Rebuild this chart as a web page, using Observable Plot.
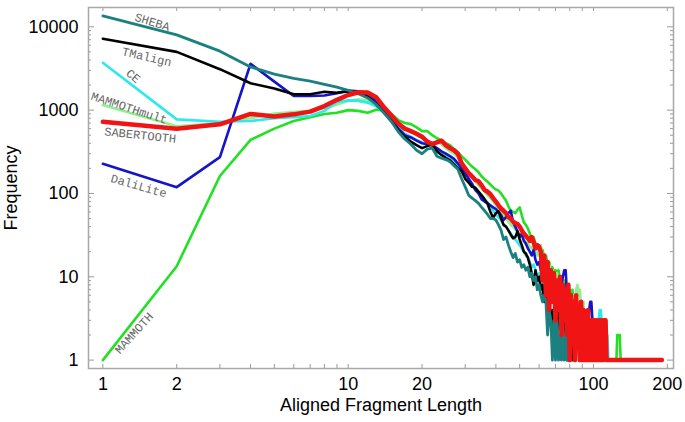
<!DOCTYPE html>
<html><head><meta charset="utf-8">
<script src="https://cdn.jsdelivr.net/npm/d3@7"></script>
<script src="https://cdn.jsdelivr.net/npm/@observablehq/plot@0.6"></script>
<style>body{margin:0;background:#fff;} #chart svg{display:block;}</style>
</head><body><div id="chart"></div>
<script>
// Frequency by aligned fragment length; index 0 = length 1
const mammoth = [1,13.4,162,440,600,740,820,900,930,1000, 980,930,1010,990,900,760,700,680,620,560, 560,500,460,430,400,380,340,310,280,255, 230,210,195,180,160,148,138,128,118,112, 108,100,90,82,70,62,60,58,64,68, 55,45,42,38,33,28,30,25,22,24, 20,21,17,18,14,15,12,13,11,12, 11,12,9,10,8,9,7,8,6,7, 5,7,5,6,4,5,3,5,4,3, 4,2,3,2,3,2,3,1,2,1, 2,2,1,2,1,2,2,1,1,1, 1,1,1,1,1,1,1,1,1,1, 1,1,1,1,2,2,2,2,1,1];
const mammothMult = [1150,640,700,800,910,950,980,1060,1170,1290, 1350,1300,1200,1000,820,680,600,560,500,460, 420,400,420,390,350,320,300,270,230,200, 180,160,140,125,115,105,95,88,80,72, 66,60,55,50,46,42,40,37,34,32, 30,28,26,25,23,22,24,20,18,22, 24,18,15,16,13,14,11,12,10,9, 11,8,9,7,8,6,7,5,6,4, 5,3,6,4,7,8,6,7,4,3, 5,2,3,1,2,1];
const ce = [3700,775,726,740,800,820,850,980,1250,1310, 1290,1230,1110,950,780,620,520,480,440,410, 380,360,340,320,290,270,250,220,190,165, 140,125,112,100,92,85,78,70,62,56, 52,48,42,40,36,33,30,28,26,24, 22,20,18,17,15,13,14,12,10,11, 9,8,9,7,8,6,7,5,6,4, 5,3,5,4,3,5,2,4,3,2, 4,2,3,1,3,2,4,2,3,1, 3,2,1,3,2,1,3,2,1,2, 1,2,1,2,3,4,4,3,2,1, 2,1,1,2,1];
const daliLite = [227,119,273,3600,2200,1480,1480,1500,1600,1720, 1680,1480,1290,1010,775,600,500,470,430,400, 390,380,350,320,300,280,260,230,200,175, 150,130,110,100,85,80,76,72,68,65, 60,55,48,52,58,62,45,40,35,30, 33,27,25,22,20,18,21,16,14,15, 12,10,13,9,11,7,9,6,8,5, 6,4,6,8,10,12,12,6,3,5, 2,4,3,1,3,2,4,2,3,1, 2,4,3,1,2,4,5,5,3,1, 2,2,1,1];
const tmAlign = [7200,5000,3100,2100,1820,1550,1550,1660,1620,1680, 1620,1440,1190,930,740,570,480,420,380,350, 370,390,320,290,268,250,225,200,185,150, 135,120,117,105,95,85,75,60,51,58, 61,50,42,40,36,32,29,30,35,28, 24,20,19,17,14,11,8,12,9,10, 7,8,5,6,4,5,3,4,2,3, 2,4,3,4,3,4,2,1,2,1, 3,1,2,1];
const sheba = [13500,8000,5100,3300,2700,2400,2230,2040,1890,1730, 1570,1400,1170,920,730,550,450,390,330,300, 340,350,280,265,255,240,215,195,150,120, 95,88,82,76,68,62,56,50,50,48, 42,36,28,30,24,20,17,19,15,16, 13,14,12,13,10,11,9,10,7,8, 6,5,6,5,2,4,3,1,3,1, 3,1,2,1,3,1,2,1,2,1, 1];
const sabertooth = [726,598,675,900,840,890,960,1120,1330,1520, 1640,1630,1430,1080,860,690,600,560,520,480, 420,390,410,430,380,350,330,300,230,200, 175,160,145,140,125,110,105,98,88,80, 72,66,62,58,52,50,46,44,43,40, 36,33,31,29,27,30,26,22,24,23, 20,9,18,6,15,4,12,5,11,3, 9,4,10,2,8,3,7,2,8,1, 6,2,5,1,6,2,4,1,5,1, 4,1,3,1,4,1,3,1,3,1, 3,1,3,1,3,1,3,1,3,1, 3,3,1,1,1,1,1,1,1,1, 1,1,1,1,1,1,1,1,1,1, 1,1,1,1,1,1,1,1,1,1, 1,1,1,1,1,1,1,1,1,1, 1,1,1,1,1,1,1,1,1,1, 1,1,1,1,1,1,1,1,1,1, 1,1,1,1,1,1,1,1,1,1, 1,1,1,1,1,1,1,1,1,1];

const seriesNames = ["MAMMOTH","MAMMOTHmult","CE","DaliLite","TMalign","SHEBA","SABERTOOTH"];
const seriesValues = [mammoth, mammothMult, ce, daliLite, tmAlign, sheba, sabertooth];
const seriesColors = ["#22e022","#8ef08e","#2ee8f0","#1414c8","#000000","#1b8080","#f01414"];
const seriesWidths = [2.6,2.6,2.6,2.6,2.6,2.8,4.5];

const xTickLabels = [1,2,5,10,20,50,100,200];
const yTickLabels = [1,10,100,1000,10000];
const xTickMarks = [1,2,3,4,5,6,7,8,9,10,20,30,40,50,60,70,80,90,100,200];
const yMinorMarks = [2,3,4,5,6,7,8,9,20,30,40,50,60,70,80,90,200,300,400,500,600,700,800,900,2000,3000,4000,5000,6000,7000,8000,9000];

// in-plot series labels: name, anchor length, anchor frequency, angle
const labelNames = ["SHEBA","TMalign","CE","MAMMOTHmult","SABERTOOTH","DaliLite","MAMMOTH"];
const labelX = [1.59,1.51,1.33,1.28,1.42,1.40,1.34];
const labelY = [11400,4340,2560,1060,502,123,2.11];
const labelAngle = [17,13,40,18,6,16,-48];

const W = 685, H = 422, mL = 88, mR = 12, mT = 7, mB = 54;
const fW = W - mL - mR, fH = H - mT - mB;

const lineMarks = seriesNames.map((name, k) =>
  Plot.line(seriesValues[k].map((v, i) => ({len: i + 1, freq: v})), {
    x: "len", y: "freq", stroke: seriesColors[k], strokeWidth: seriesWidths[k],
    strokeLinejoin: "round", strokeLinecap: "round"
  })
);

const labels = labelNames.map((t, i) => ({t, x: labelX[i], y: labelY[i], a: labelAngle[i]}));
const tickColor = "#9a9a9a";

const chart = Plot.plot({
  width: W, height: H,
  marginLeft: mL, marginRight: mR, marginTop: mT, marginBottom: mB,
  style: {fontFamily: "'Liberation Sans', Arial, Helvetica, sans-serif", fontSize: "18px", background: "#fff"},
  x: {type: "log", domain: [0.8737, 211.9]},
  y: {type: "log", domain: [0.793, 17050]},
  marks: [
    // inward tick marks on all four sides
    Plot.tickX(xTickMarks, {x: d => d, stroke: tickColor, insetTop: fH - 4}),
    Plot.tickX(xTickMarks, {x: d => d, stroke: tickColor, insetBottom: fH - 4}),
    Plot.tickY(yTickLabels, {y: d => d, stroke: tickColor, insetRight: fW - 6}),
    Plot.tickY(yMinorMarks, {y: d => d, stroke: tickColor, insetRight: fW - 3}),
    Plot.tickY(yTickLabels, {y: d => d, stroke: tickColor, insetLeft: fW - 6}),
    Plot.tickY(yMinorMarks, {y: d => d, stroke: tickColor, insetLeft: fW - 3}),
    ...lineMarks,
    Plot.frame({stroke: "#a8a8a8", strokeWidth: 1.5}),
    Plot.axisX({ticks: xTickLabels, tickSize: 0, tickPadding: 9, tickFormat: d => String(d), fontSize: 18, label: null}),
    Plot.axisY({ticks: yTickLabels, tickSize: 0, tickPadding: 10, tickFormat: d => String(d), fontSize: 18, label: null}),
    Plot.text(labels, {x: "x", y: "y", text: "t", rotate: "a", fontFamily: "'Liberation Mono', 'Courier New', monospace", fontSize: 12, fill: "#666"}),
    Plot.text(["Aligned Fragment Length"], {frameAnchor: "bottom", lineAnchor: "middle", textAnchor: "middle", dy: 37, fontSize: 18, fill: "#000"}),
    Plot.text(["Frequency"], {frameAnchor: "left", textAnchor: "middle", lineAnchor: "middle", dx: -77, rotate: -90, fontSize: 18, fill: "#000"})
  ]
});
document.getElementById("chart").appendChild(chart);
</script></body></html>
